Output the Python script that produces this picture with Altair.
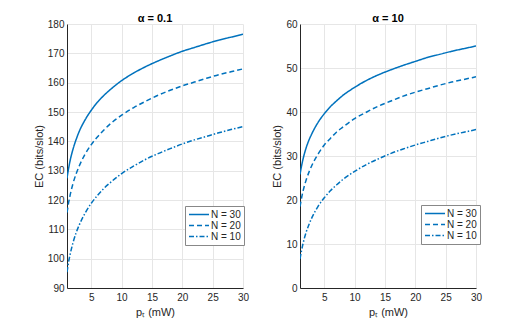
import altair as alt
import pandas as pd

p_mw = [1, 1.25, 1.5, 2, 2.5, 3, 4, 5, 6, 7, 8, 10, 12, 14, 16, 18, 20, 22, 24, 26, 28, 30]

series_names = ["N = 30", "N = 20", "N = 10"]

# alpha = 0.1
left_n30 = [127.4, 130.6, 133.3, 137.4, 140.6, 143.3, 147.4, 150.6, 153.3, 155.5, 157.4,
            160.7, 163.3, 165.5, 167.4, 169.1, 170.7, 172.0, 173.3, 174.5, 175.5, 176.5]
left_n20 = [115.7, 118.9, 121.5, 125.7, 128.9, 131.5, 135.7, 138.9, 141.5, 143.7, 145.7,
            148.9, 151.5, 153.7, 155.7, 157.4, 158.9, 160.2, 161.5, 162.7, 163.7, 164.7]
left_n10 = [95.4, 98.7, 101.3, 105.5, 108.8, 111.4, 115.6, 118.9, 121.5, 123.8, 125.7,
            129.0, 131.6, 133.9, 135.8, 137.5, 139.1, 140.5, 141.7, 142.9, 144.0, 145.0]

# alpha = 10
right_n30 = [25.8, 27.7, 29.3, 31.8, 33.7, 35.2, 37.7, 39.6, 41.2, 42.5, 43.7,
             45.6, 47.2, 48.5, 49.6, 50.6, 51.5, 52.4, 53.1, 53.8, 54.4, 55.0]
right_n20 = [18.5, 20.4, 22.0, 24.5, 26.4, 28.0, 30.5, 32.5, 34.0, 35.4, 36.5,
             38.5, 40.0, 41.4, 42.5, 43.6, 44.5, 45.3, 46.1, 46.8, 47.4, 48.0]
right_n10 = [6.6, 8.5, 10.1, 12.6, 14.5, 16.1, 18.6, 20.5, 22.1, 23.4, 24.6,
             26.5, 28.1, 29.4, 30.6, 31.6, 32.5, 33.3, 34.1, 34.8, 35.4, 36.0]

x_ticks = [5, 10, 15, 20, 25, 30]
left_y_ticks = [90, 100, 110, 120, 130, 140, 150, 160, 170, 180]
right_y_ticks = [0, 10, 20, 30, 40, 50, 60]

BLUE = "#0072BD"
FONT = "Liberation Sans"
DARK = "#262626"


def long_df(lists):
    rows = []
    for name, vals in zip(series_names, lists):
        for p, v in zip(p_mw, vals):
            rows.append({"p": p, "ec": v, "series": name})
    return pd.DataFrame(rows)


def panel(df, title, ydom, yticks, lx, ly):
    return (
        alt.Chart(df)
        .mark_line(strokeWidth=1.5, interpolate="monotone", clip=True)
        .encode(
            x=alt.X("p:Q", scale=alt.Scale(domain=[1, 30], nice=False, zero=False),
                    axis=alt.Axis(values=x_ticks, title="pₜ (mW)")),
            y=alt.Y("ec:Q", scale=alt.Scale(domain=ydom, nice=False, zero=False),
                    axis=alt.Axis(values=yticks, title="EC (bits/slot)")),
            detail="series:N",
            stroke=alt.value(BLUE),
            strokeDash=alt.StrokeDash(
                "series:N",
                scale=alt.Scale(domain=series_names,
                                range=[[1, 0], [5, 3], [5, 2, 1.5, 2]]),
                legend=alt.Legend(
                    title=None, orient="none", legendX=lx, legendY=ly,
                    symbolType="stroke", symbolSize=400, symbolStrokeWidth=1.5,
                    symbolStrokeColor=BLUE, labelFontSize=10, labelFont=FONT,
                    labelColor=DARK, strokeColor="#888888", fillColor="white",
                    padding=3, rowPadding=0, labelOffset=1, symbolOffset=0,
                    clipHeight=11,
                ),
            ),
        )
        .properties(width=176, height=264,
                    title=alt.TitleParams(title, fontSize=11, font=FONT, fontWeight="bold",
                                          color="black", offset=-5, frame="group"))
    )


left = panel(long_df([left_n30, left_n20, left_n10]), "α = 0.1", [90, 180], left_y_ticks, 118, 182)
right = panel(long_df([right_n30, right_n20, right_n10]), "α = 10", [0, 60], right_y_ticks, 121, 181)

chart = (
    alt.hconcat(left, right, spacing=22)
    .resolve_scale(strokeDash="independent", x="independent", y="independent")
    .resolve_legend(strokeDash="independent")
    .properties(padding={"left": 25, "top": 5, "right": 5, "bottom": 5})
    .configure_view(stroke=None)
    .configure_axis(
        labelFont=FONT, titleFont=FONT, labelFontSize=10, titleFontSize=11,
        labelColor=DARK, titleColor=DARK, titleFontWeight="normal",
        domainColor=DARK, domainWidth=1, ticks=False, labelPadding=3,
        gridColor="#e6e6e6", gridWidth=1, titlePadding=3, labelFlush=False,
    )
    .configure_axisX(labelPadding=4, titlePadding=4)
)

chart.save("out.html", embed_options={"renderer": "svg", "actions": False})
